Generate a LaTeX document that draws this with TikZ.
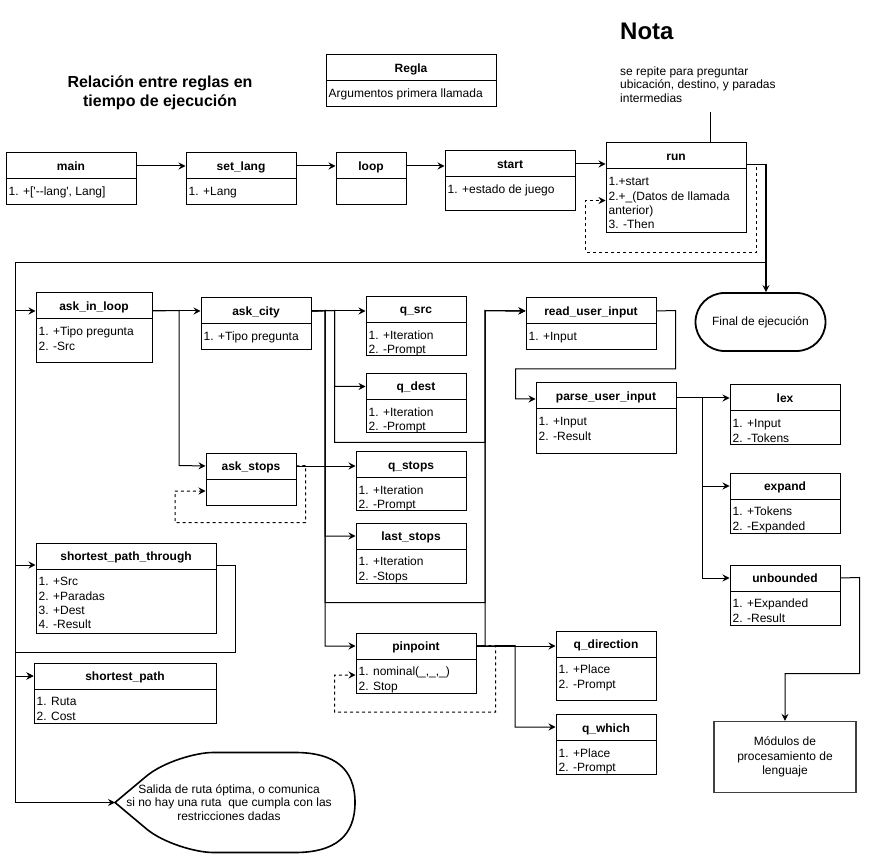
\documentclass[tikz,border=0pt]{standalone}
\usepackage{fontspec}
\setmainfont{Liberation Sans}[Ligatures=TeXOff]
\usetikzlibrary{arrows.meta,calc}

\newcommand\umlbox[7]{%
  \node[hdr, minimum width=#4] (#1) at (#2,#3) {#6};
  \node[bodyr, minimum width=#4, minimum height=#5-26] (#1-b) at (#2,#3+26) {};
  \node[btxt] (#1-t) at (#2+3,#3+33) {\strut#7};
}

\begin{document}
\begin{tikzpicture}[x=1pt,y=-1pt,
  hdr/.style={draw, line width=1pt, anchor=north west, inner sep=0, minimum height=26,
    text height=9, text depth=0, font=\bfseries\fontsize{12}{14}\selectfont},
  bodyr/.style={draw, line width=1pt, anchor=north west, inner sep=0},
  btxt/.style={anchor=north west, inner sep=0, align=left, font=\fontsize{12}{14.3}\selectfont},
  link/.style={draw, line width=1pt},
  conn/.style={draw, line width=1pt, -{Stealth[length=7pt,width=7pt,inset=2.5pt]}},
  dsh/.style={conn, dash pattern=on 3pt off 3pt},
]
\fill[white] (0,0) rectangle (873,858);
\useasboundingbox (0,0) rectangle (873,858);

% ---- texts
\node[anchor=north, inner sep=0, align=center, font=\bfseries\fontsize{16}{19}\selectfont] (title) at (160,74.5)
  {\strut Relación entre reglas en\\tiempo de ejecución};
\node[anchor=base west, inner sep=0, font=\bfseries\fontsize{24}{28}\selectfont] (nota) at (620,40) {Nota};
\node[anchor=north west, inner sep=0, align=left, font=\fontsize{12}{13.7}\selectfont] (notetext) at (620,65.4)
  {\strut se repite para preguntar\\ubicación, destino, y paradas\\intermedias};

% ---- boxes
\umlbox{regla}{325.5}{54.5}{170}{52}{Regla}{Argumentos primera llamada}
\umlbox{main}{5.5}{152.5}{130}{52}{main}{1. +['--lang', Lang]}
\umlbox{setlang}{185.5}{152.5}{110}{52}{set\_lang}{1. +Lang}
\umlbox{loop}{335.5}{152.5}{70}{52}{loop}{}
\umlbox{start}{444.5}{150.5}{130}{60}{start}{1. +estado de juego}
\umlbox{run}{605.5}{142.5}{140}{90}{run}{1.+start\\2.+\_(Datos de llamada\\anterior)\\3. -Then}
\umlbox{askinloop}{35.5}{292.5}{116}{70}{ask\_in\_loop}{1. +Tipo pregunta\\2. -Src}
\umlbox{askcity}{200.5}{297.5}{110}{52}{ask\_city}{1. +Tipo pregunta}
\umlbox{qsrc}{365.5}{296}{100}{59}{q\_src}{1. +Iteration\\2. -Prompt}
\umlbox{qdest}{365.5}{373}{100}{59}{q\_dest}{1. +Iteration\\2. -Prompt}
\umlbox{askstops}{205.5}{452.5}{90}{52}{ask\_stops}{}
\umlbox{qstops}{355.5}{451}{110}{59}{q\_stops}{1. +Iteration\\2. -Prompt}
\umlbox{laststops}{355.5}{522.5}{110}{60}{last\_stops}{1. +Iteration\\2. -Stops}
\umlbox{pinpoint}{355.5}{632.5}{120}{60}{pinpoint}{1. nominal(\_,\_,\_)\\2. Stop}
\umlbox{spt}{35.5}{542.5}{180}{90}{shortest\_path\_through}{1. +Src\\2. +Paradas\\3. +Dest\\4. -Result}
\umlbox{sp}{33.5}{662.5}{182}{60}{shortest\_path}{1. Ruta\\2. Cost}
\umlbox{read}{525.5}{297.5}{130}{52}{read\_user\_input}{1. +Input}
\umlbox{parse}{535.5}{382.5}{140}{70}{parse\_user\_input}{1. +Input\\2. -Result}
\umlbox{lex}{729.5}{384.5}{110}{60}{lex}{1. +Input\\2. -Tokens}
\umlbox{expand}{729.5}{472.5}{110}{60}{expand}{1. +Tokens\\2. -Expanded}
\umlbox{unbounded}{729.5}{564.5}{110}{60}{unbounded}{1. +Expanded\\2. -Result}
\umlbox{qdir}{555.5}{630.5}{100}{69}{q\_direction}{1. +Place\\2. -Prompt}
\umlbox{qwhich}{555.5}{714}{100}{60}{q\_which}{1. +Place\\2. -Prompt}

\node[draw, line width=1.8pt, rounded corners=29, minimum width=130, minimum height=58, inner sep=0,
  font=\fontsize{12}{14}\selectfont] (final) at (760.5,322) {Final de ejecución};
\node[draw=black!75, line width=1.3pt, minimum width=142, minimum height=71, inner sep=0, align=center,
  font=\fontsize{12}{14.3}\selectfont] (modulos) at (785,757) {Módulos de\\procesamiento de\\lenguaje};

% display shape
\draw[line width=1.6pt] (115,802.5) -- (146,776.5) .. controls (163,762) and (196,752.5) .. (213,752.5)
  -- (295,752.5) .. controls (335,752.5) and (355,769) .. (355,802.5)
  .. controls (355,836) and (335,852.5) .. (295,852.5) -- (213,852.5)
  .. controls (196,852.5) and (163,843) .. (146,828.5) -- cycle;
\coordinate (salW) at (115,802.5);
\node[inner sep=0, align=center, font=\fontsize{12}{13.4}\selectfont] (salida) at (229,802.5)
  {Salida de ruta óptima, o comunica\\si no hay una ruta\ \ que cumpla con las\\restricciones dadas};

% ---- coordinates
\coordinate (rA) at (766,164.5);
\coordinate (rB) at (766,262.5);
\coordinate (bTL) at (15.5,262.5);
\coordinate (ySpt) at (0,565);
\coordinate (dA) at (756,164.5);
\coordinate (dB) at (756,252.5);
\coordinate (dC) at (585.5,252.5);
\coordinate (dD) at (585.5,200.5);
\coordinate (sA) at (235.5,565);
\coordinate (sB) at (235.5,652.5);
\coordinate (sC) at (15.5,652.5);
\coordinate (aA) at (179,310.5);
\coordinate (aB) at (179,465.5);
\coordinate (eA) at (305.5,465.5);
\coordinate (eB) at (305.5,522.5);
\coordinate (eC) at (175,522.5);
\coordinate (eD) at (175,491);
\coordinate (cA) at (334.5,310.5);
\coordinate (cB) at (334.5,442.5);
\coordinate (cC) at (485,442.5);
\coordinate (cD) at (485,310.5);
\coordinate (kA) at (325,310.5);
\coordinate (kB) at (325,602.5);
\coordinate (kC) at (485,602.5);
\coordinate (pA) at (485,645.5);
\coordinate (pB) at (515,645.5);
\coordinate (pC) at (515,727);
\coordinate (qA) at (495.5,645.5);
\coordinate (qB) at (495.5,712);
\coordinate (qC) at (334.5,712);
\coordinate (qD) at (334.5,675);
\coordinate (rU1) at (675.5,310.5);
\coordinate (rU2) at (675.5,369);
\coordinate (rU3) at (515.5,369);
\coordinate (rU4) at (515.5,399);
\coordinate (xA) at (702,398);
\coordinate (ub1) at (859.5,577.5);
\coordinate (ub2) at (859.5,673.5);
\coordinate (ub3) at (785,673.5);
\coordinate (nB) at (710.5,112.5);

% ---- connectors
\draw[conn] (main) -- (setlang);
\draw[conn] (setlang) -- (loop);
\draw[conn] (loop.east) -- (loop.east -| start.west);
\draw[conn] (start.east) -- (start.east -| run.west);
\draw[link] (nB) -- (nB |- run.north);
\draw[dsh] (rA -| run.east) -- (dA) -- (dB) -- (dC) -- (dD) -- (dD -| run.west);
\draw[conn, line width=1.8pt] (rA -| run.east) -- (rA) -- (rA |- final.north);
\draw[conn] (rA) -- (rB) -- (bTL) -- (bTL |- askcity.west) -- (askinloop.west |- askcity.west);
\draw[conn] (bTL) -- (bTL |- ySpt) -- (spt.west |- ySpt);
\draw[conn] (bTL) -- (bTL |- sp.west) -- (sp.west);
\draw[conn] (bTL) -- (bTL |- salW) -- (salW);
\draw[conn] (spt.east |- ySpt) -- (sA) -- (sB) -- (sC) -- (sC |- sp.west) -- (sp.west);
\draw[conn] (askinloop.east |- askcity.west) -- (askcity.west);
\draw[conn] (askinloop.east |- askcity.west) -- (aA) -- (aB) -- (askstops.west);
\draw[dsh] (askstops.east) -- (eA) -- (eB) -- (eC) -- (eD) -- (eD -| askstops.west);
\draw[conn] (askstops.east) -- (askstops.east -| qstops.west);
\draw[conn] (askcity.east) -- (askcity.east -| qsrc.west);
\draw[conn] (askcity.east) -- (cA) -- (cA |- qdest.west) -- (qdest.west);
\draw[conn] (askcity.east) -- (cA) -- (cB) -- (cC) -- (cD) -- (read.west);
\draw[conn] (askcity.east) -- (kA) -- (kA |- laststops.west) -- (laststops.west);
\draw[conn] (askcity.east) -- (kA) -- (kA |- pinpoint.west) -- (pinpoint.west);
\draw[conn] (askcity.east) -- (kA) -- (kB) -- (kC) -- (cD) -- (read.west);
\draw[conn] (pinpoint.east) -- (pA) -- (cD) -- (read.west);
\draw[conn] (pinpoint.east) -- (pinpoint.east -| qdir.west);
\draw[conn] (pinpoint.east) -- (pB) -- (pC) -- (pC -| qwhich.west);
\draw[dsh] (pinpoint.east) -- (qA) -- (qB) -- (qC) -- (qD) -- (qD -| pinpoint.west);
\draw[conn] (read.east) -- (rU1) -- (rU2) -- (rU3) -- (rU4) -- (rU4 -| parse.west);
\draw[conn] (xA -| parse.east) -- (xA -| lex.west);
\draw[conn] (xA -| parse.east) -- (xA) -- (xA |- expand.west) -- (expand.west);
\draw[conn] (xA -| parse.east) -- (xA) -- (xA |- unbounded.west) -- (unbounded.west);
\draw[conn] (unbounded.east) -- (ub1) -- (ub2) -- (ub3) -- (modulos.north);
\end{tikzpicture}
\end{document}
